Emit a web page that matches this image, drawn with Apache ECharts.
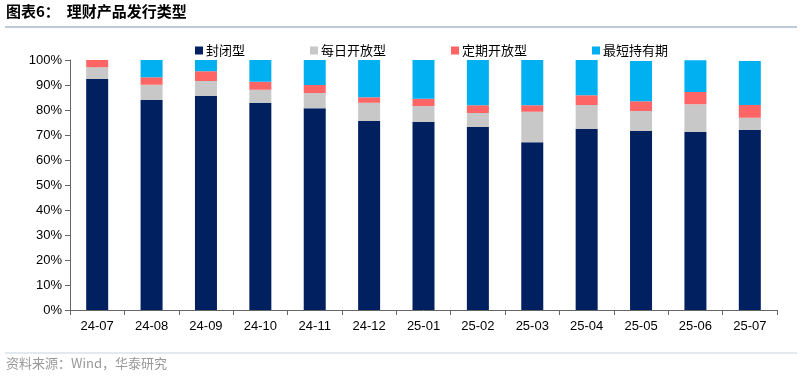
<!DOCTYPE html>
<html><head><meta charset="utf-8">
<script src="https://cdn.jsdelivr.net/npm/echarts@6/dist/echarts.min.js"></script>
<style>html,body{margin:0;padding:0;background:#fff}#c{width:800px;height:377px}</style>
</head><body><div id="c"></div>
<script>
var categories = ['24-07','24-08','24-09','24-10','24-11','24-12','25-01','25-02','25-03','25-04','25-05','25-06','25-07'];
var closedType = [92.4,84.0,85.7,82.9,80.7,75.6,75.3,73.2,67.1,72.4,71.6,71.3,72.1];
var dailyOpen = [4.7,6.1,5.9,5.2,6.1,7.3,6.3,5.6,12.2,9.6,8.0,11.0,4.8];
var periodicOpen = [2.9,3.0,3.9,3.2,3.2,2.2,2.9,3.1,2.6,3.9,3.9,4.9,5.1];
var minHolding = [0,6.9,4.5,8.7,10.0,14.9,15.5,18.1,18.1,14.1,16.1,12.7,17.6];
var yTicks = [0,10,20,30,40,50,60,70,80,90,100];

var chart = echarts.init(document.getElementById('c'));
var cjk = '"Noto Sans CJK SC", sans-serif';
function s(name, data, color){
  return {name:name, type:'bar', stack:'a', data:data, barWidth:22,
    itemStyle:{color:color}, emphasis:{disabled:true}};
}
chart.setOption({
  animation:false,
  grid:{left:70, right:23, top:60, bottom:67},
  legend:{top:39, left:190, itemWidth:8, itemHeight:8, itemGap:65, icon:'rect',
    textStyle:{fontFamily:cjk, fontSize:13, color:'#000', padding:[0,0,0,-2]},
    data:['封闭型','每日开放型','定期开放型','最短持有期']},
  xAxis:{type:'category', data:categories,
    axisLine:{lineStyle:{color:'#666'}},
    axisTick:{show:true, alignWithLabel:false, length:5, lineStyle:{color:'#666'}},
    axisLabel:{fontFamily:'"Liberation Sans", Arial, sans-serif', fontSize:13, color:'#000', margin:10}},
  yAxis:{type:'value', min:0, max:100, interval:10,
    axisLine:{show:true, lineStyle:{color:'#666'}},
    axisTick:{show:true, length:5, lineStyle:{color:'#666'}},
    splitLine:{show:false},
    axisLabel:{fontFamily:'"Liberation Sans", Arial, sans-serif', fontSize:13, color:'#000', margin:8,
      formatter:function(v){return yTicks.indexOf(v)>=0 ? v+'%' : '';}}},
  series:[
    s('封闭型', closedType, '#002060'),
    s('每日开放型', dailyOpen, '#C8C8C8'),
    s('定期开放型', periodicOpen, '#FF6565'),
    s('最短持有期', minHolding, '#00B0F0')
  ],
  graphic:[
    {type:'text', left:6, top:4, style:{text:'图表6：  理财产品发行类型', font:'bold 15px "Noto Sans CJK SC", sans-serif', fill:'#000'}},
    {type:'line', shape:{x1:5, y1:27, x2:797, y2:27}, style:{stroke:'#A9B8CB', lineWidth:1.5}},
    {type:'line', shape:{x1:5, y1:353, x2:797, y2:353}, style:{stroke:'#C9D3E0', lineWidth:1}},
    {type:'text', left:6, top:357, style:{text:'资料来源：Wind，华泰研究', font:'13px "Noto Sans CJK SC", sans-serif', fill:'#999'}}
  ]
});
</script></body></html>
